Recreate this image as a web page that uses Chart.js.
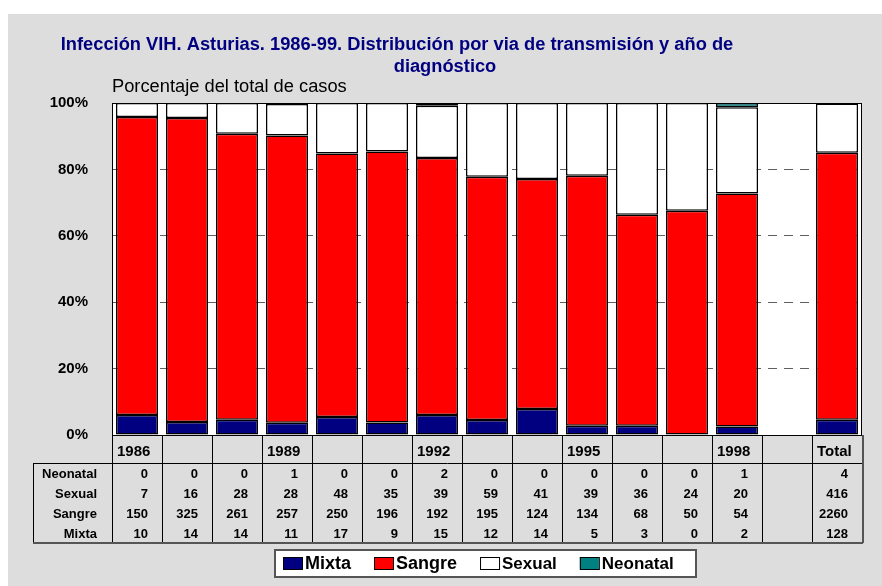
<!DOCTYPE html>
<html lang="es">
<head>
  <meta charset="utf-8">
  <title>Infección VIH. Asturias. 1986-99</title>
  <script src="https://cdn.jsdelivr.net/npm/chart.js@4.4.1/dist/chart.umd.min.js"></script>
  <style>
    html, body { margin: 0; padding: 0; background: #fff; }
    #wrap { width: 882px; height: 586px; position: relative; }
  </style>
</head>
<body>
  <div id="wrap">
    <canvas id="chartVih" width="882" height="586"></canvas>
  </div>

  <script>
    // datos
    var years = ['1986', '1987', '1988', '1989', '1990', '1991', '1992', '1993', '1994', '1995', '1996', '1997', '1998', '1999', 'Total'];
    var yearLabels = ['1986', '', '', '1989', '', '', '1992', '', '', '1995', '', '', '1998', '', 'Total'];
    var mixta = [10, 14, 14, 11, 17, 9, 15, 12, 14, 5, 3, 0, 2, null, 128];
    var sangre = [150, 325, 261, 257, 250, 196, 192, 195, 124, 134, 68, 50, 54, null, 2260];
    var sexual = [7, 16, 28, 28, 48, 35, 39, 59, 41, 39, 36, 24, 20, null, 416];
    var neonatal = [0, 0, 0, 1, 0, 0, 2, 0, 0, 0, 0, 0, 1, null, 4];
    var yTicks = [0, 20, 40, 60, 80, 100];

    var titleLine1 = 'Infección VIH. Asturias. 1986-99. Distribución por via de transmisión y año de';
    var titleLine2 = 'diagnóstico';
    var yTitle = 'Porcentaje del total de casos';

    // porcentaje sobre el total de cada año
    function pct(arr) {
      return arr.map(function (v, i) {
        if (v === null) return null;
        var tot = mixta[i] + sangre[i] + sexual[i] + neonatal[i];
        return v / tot * 100;
      });
    }

    var series = [
      { label: 'Mixta', data: mixta, color: '#000080' },
      { label: 'Sangre', data: sangre, color: '#FF0000' },
      { label: 'Sexual', data: sexual, color: '#FFFFFF' },
      { label: 'Neonatal', data: neonatal, color: '#008080' }
    ];

    var font = '"Liberation Sans", Arial, sans-serif';

    // fondo gris + area blanca
    var bgPlugin = {
      id: 'bgPlugin',
      beforeDraw: function (chart) {
        var c = chart.ctx, a = chart.chartArea;
        c.save();
        c.fillStyle = '#fff';
        c.fillRect(0, 0, chart.width, chart.height);
        c.fillStyle = '#DDDDDD';
        c.fillRect(8, 14, chart.width - 8, chart.height - 14);
        c.fillStyle = '#fff';
        c.fillRect(a.left, a.top, a.right - a.left, a.bottom - a.top);
        c.restore();
      }
    };

    // marco, titulos, tabla de datos y leyenda
    var tablePlugin = {
      id: 'tablePlugin',
      afterDraw: function (chart) {
        var c = chart.ctx, a = chart.chartArea;
        var colW = (a.right - a.left) / years.length;
        c.save();

        // marco del grafico
        c.strokeStyle = '#000';
        c.lineWidth = 1;
        c.strokeRect(a.left + 0.5, a.top + 0.5, a.right - a.left - 1, a.bottom - a.top);

        // titulos
        c.fillStyle = '#000080';
        c.font = 'bold 18.3px ' + font;
        c.textBaseline = 'middle';
        c.textAlign = 'center';
        c.fillText(titleLine1, 397, 45);
        c.fillText(titleLine2, 445, 67);
        c.fillStyle = '#000';
        c.font = '18.3px ' + font;
        c.textAlign = 'left';
        c.fillText(yTitle, 112, 87);

        // tabla
        var rowTop = a.bottom, yearBottom = 463, tBottom = 543, tLeft = 33;
        c.lineWidth = 1;
        c.strokeStyle = '#000';
        c.beginPath();
        for (var i = 0; i <= years.length; i++) {
          var lx = Math.round(a.left + i * colW) + 0.5;
          c.moveTo(lx, rowTop);
          c.lineTo(lx, tBottom);
        }
        c.moveTo(tLeft, yearBottom + 0.5);
        c.lineTo(a.right, yearBottom + 0.5);
        c.moveTo(tLeft + 0.5, yearBottom);
        c.lineTo(tLeft + 0.5, tBottom);
        c.stroke();
        c.strokeStyle = '#555';
        c.lineWidth = 2;
        c.beginPath();
        c.moveTo(tLeft, tBottom);
        c.lineTo(a.right + 1, tBottom);
        c.moveTo(a.right + 1, rowTop);
        c.lineTo(a.right + 1, tBottom);
        c.stroke();

        c.fillStyle = '#000';
        c.font = 'bold 15px ' + font;
        c.textAlign = 'left';
        yearLabels.forEach(function (t, i) {
          c.fillText(t, a.left + i * colW + 5, 452);
        });

        var rows = [series[3], series[2], series[1], series[0]];
        var rowY = [474, 494, 514, 534];
        c.font = 'bold 13px ' + font;
        rows.forEach(function (s, r) {
          c.textAlign = 'right';
          c.fillText(s.label, 97, rowY[r]);
          s.data.forEach(function (v, i) {
            if (v === null) return;
            c.fillText(String(v), a.left + (i + 1) * colW - 14, rowY[r]);
          });
        });

        // leyenda
        c.fillStyle = '#fff';
        c.fillRect(275, 550, 421, 27);
        c.strokeStyle = '#555';
        c.lineWidth = 2;
        c.strokeRect(275, 550, 421, 27);
        var lx2 = 283;
        series.forEach(function (s, i) {
          c.fillStyle = s.color;
          c.fillRect(lx2, 557, 19, 12);
          c.strokeStyle = '#000';
          c.lineWidth = 1;
          c.strokeRect(lx2 + 0.5, 557.5, 19, 12);
          c.fillStyle = '#000';
          c.font = 'bold ' + (i < 2 ? 18 : 17) + 'px ' + font;
          c.textAlign = 'left';
          c.fillText(s.label, lx2 + 22, 564);
          lx2 += 22 + c.measureText(s.label).width + 23;
        });

        c.restore();
      }
    };

    var chartData = {
      labels: years,
      datasets: series.map(function (s) {
        return {
          label: s.label,
          data: pct(s.data),
          backgroundColor: s.color,
          borderColor: '#000',
          borderWidth: 1.5,
          borderSkipped: false,
          barPercentage: 0.84,
          categoryPercentage: 1.0
        };
      })
    };

    var chartOption = {
      responsive: false,
      animation: false,
      layout: {
        padding: { left: 0, top: 103, right: 20, bottom: 151 }
      },
      plugins: {
        legend: { display: false },
        tooltip: { enabled: false }
      },
      scales: {
        x: {
          stacked: true,
          display: false
        },
        y: {
          stacked: true,
          min: 0,
          max: 100,
          afterFit: function (s) { s.width = 112; },
          afterBuildTicks: function (s) {
            s.ticks = yTicks.map(function (v) { return { value: v }; });
          },
          border: { display: false, dash: [9, 7] },
          grid: {
            drawTicks: false,
            color: function (ctx) {
              var v = ctx.tick && ctx.tick.value;
              return (v === 0 || v === 100) ? 'rgba(0,0,0,0)' : '#606060';
            },
            lineWidth: 1
          },
          ticks: {
            padding: 24,
            color: '#000',
            font: { family: font, size: 15, weight: 'bold' },
            callback: function (v) { return v + '%'; }
          }
        }
      }
    };

    new Chart(document.getElementById('chartVih').getContext('2d'), {
      type: 'bar',
      data: chartData,
      options: chartOption,
      plugins: [bgPlugin, tablePlugin]
    });
  </script>
</body>
</html>
